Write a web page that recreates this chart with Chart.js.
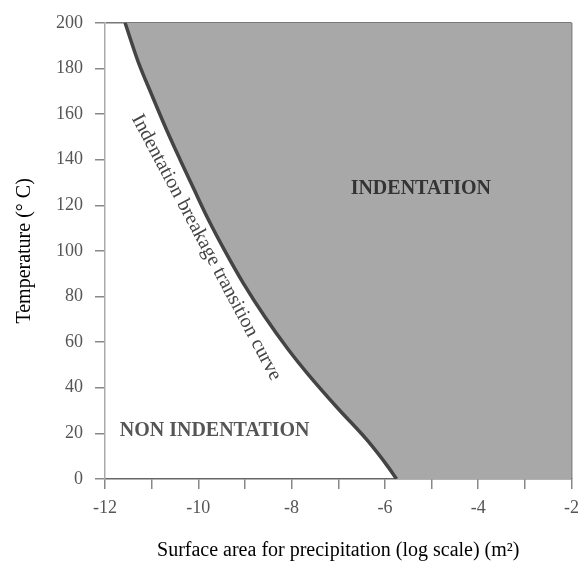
<!DOCTYPE html>
<html>
<head>
<meta charset="utf-8">
<script src="https://cdn.jsdelivr.net/npm/chart.js@4.4.1/dist/chart.umd.min.js"></script>
<style>
  html, body { margin: 0; padding: 0; background: #fff; }
  #wrap { width: 587px; height: 569px; }
</style>
</head>
<body>
<div id="wrap"><canvas id="myChart" width="587" height="569"></canvas></div>
<script>
// transition curve (log m^2, deg C)
const curveX = [-11.57, -11.29, -11.01, -10.70, -10.39, -10.07, -9.79, -9.43, -9.04, -8.57, -8.08, -7.65, -7.01, -6.38, -5.92, -5.75];
const curveY = [200, 183, 169, 154, 140, 126, 114, 100, 86, 71, 57, 46, 31, 17, 5, 0];
// right end of the shaded region along the x axis
const fillEnd = { x: -2, y: 0 };

const xMin = -12, xMax = -2;
const yMin = 0, yMax = 200;

const labels = [
    { text: 'INDENTATION', x: -5.23, y: 127, bold: true, color: '#333', angle: 0 },
    { text: 'NON INDENTATION', x: -9.65, y: 21, bold: true, color: '#555', angle: 0 },
    { text: 'Indentation breakage transition curve', x: -9.83, y: 101.5, bold: false, color: '#444', angle: 62 }
];

const serif = '"Liberation Serif", "Times New Roman", serif';

const curvePts = curveX.map((x, i) => ({ x: x, y: curveY[i] }));
const fillPts = curvePts.concat([fillEnd]);

const textPlugin = {
    id: 'textPlugin',
    afterDatasetsDraw(chart) {
        const ctx = chart.ctx;
        const xs = chart.scales.x, ys = chart.scales.y;
        labels.forEach(l => {
            ctx.save();
            ctx.translate(xs.getPixelForValue(l.x), ys.getPixelForValue(l.y));
            ctx.rotate(l.angle * Math.PI / 180);
            ctx.font = (l.bold ? 'bold ' : '') + '20px ' + serif;
            ctx.fillStyle = l.color;
            ctx.textAlign = 'center';
            ctx.textBaseline = 'middle';
            ctx.fillText(l.text, 0, 0);
            ctx.restore();
        });
    }
};

const ctx = document.getElementById('myChart').getContext('2d');
const chart = new Chart(ctx, {
    type: 'scatter',
    data: {
        datasets: [{
            // shaded indentation region
            data: fillPts,
            showLine: true,
            fill: 'end',
            backgroundColor: '#a8a8a8',
            borderWidth: 0,
            borderColor: 'rgba(0,0,0,0)',
            cubicInterpolationMode: 'monotone',
            pointRadius: 0,
            order: 2
        }, {
            // transition curve
            data: curvePts,
            showLine: true,
            fill: false,
            borderColor: '#444',
            borderWidth: 3.5,
            cubicInterpolationMode: 'monotone',
            pointRadius: 0,
            order: 1
        }]
    },
    options: {
        responsive: false,
        animation: false,
        layout: { padding: { top: 14, right: 13, left: 0, bottom: 0 } },
        plugins: {
            legend: { display: false },
            tooltip: { enabled: false }
        },
        scales: {
            x: {
                type: 'linear',
                min: xMin,
                max: xMax,
                afterFit: axis => { axis.height = 90; },
                border: { color: '#666', width: 1.5 },
                grid: {
                    drawOnChartArea: true,
                    color: c => c.tick && c.tick.value === xMax ? '#888' : 'rgba(0,0,0,0)',
                    tickColor: '#888',
                    tickLength: 10,
                    lineWidth: 1.5
                },
                ticks: {
                    stepSize: 1,
                    padding: 8,
                    color: '#555',
                    font: { family: serif, size: 18 },
                    callback: v => (v % 2 === 0 ? String(v) : '')
                },
                title: {
                    display: true,
                    text: 'Surface area for precipitation (log scale) (m²)',
                    color: '#000',
                    font: { family: serif, size: 20 },
                    padding: { bottom: 6, top: 0 }
                }
            },
            y: {
                type: 'linear',
                min: yMin,
                max: yMax,
                afterFit: axis => { axis.width = 105; },
                border: { color: '#aaa', width: 1.5 },
                grid: {
                    drawOnChartArea: true,
                    color: c => c.tick && c.tick.value === yMax ? '#777' : 'rgba(0,0,0,0)',
                    tickColor: '#888',
                    tickLength: 10,
                    lineWidth: 1.5
                },
                ticks: {
                    stepSize: 20,
                    padding: 12,
                    color: '#555',
                    font: { family: serif, size: 18 }
                },
                title: {
                    display: true,
                    text: 'Temperature (° C)',
                    color: '#000',
                    font: { family: serif, size: 20 },
                    padding: { top: 13, bottom: 0 }
                }
            }
        }
    },
    plugins: [textPlugin]
});
</script>
</body>
</html>
